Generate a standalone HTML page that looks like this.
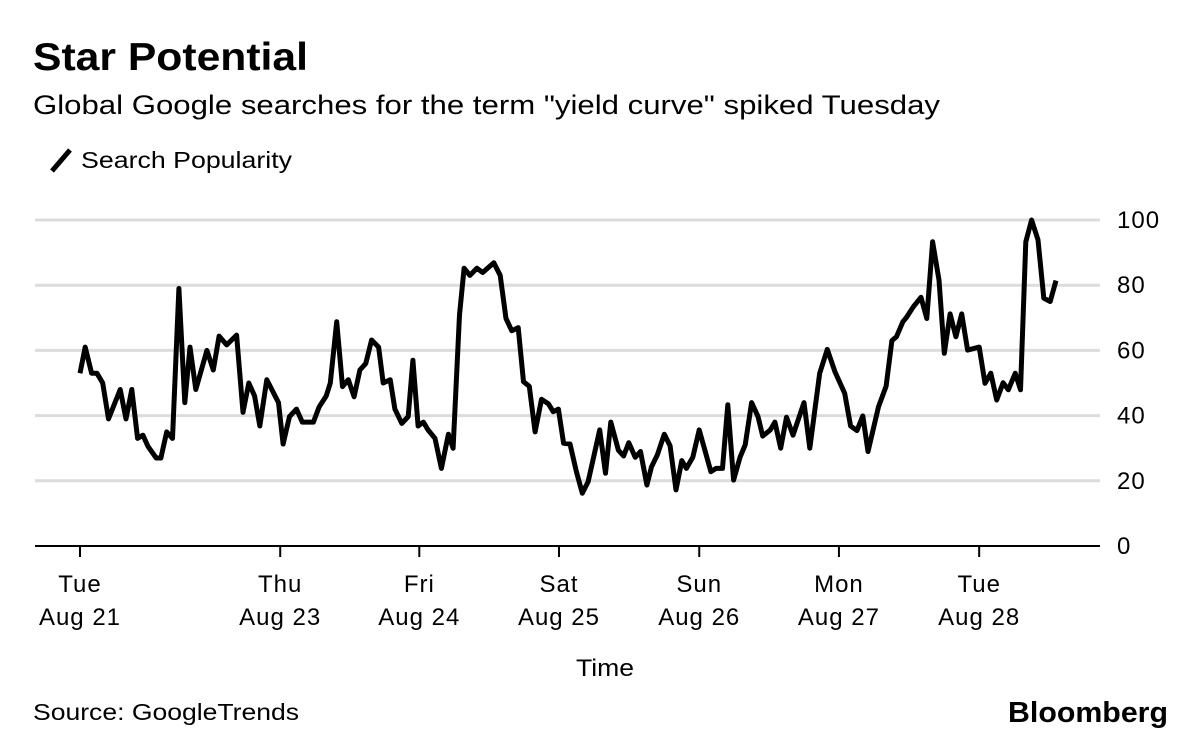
<!DOCTYPE html>
<html><head><meta charset="utf-8"><style>
body{margin:0;background:#fff;width:1200px;height:742px;overflow:hidden;font-family:"Liberation Sans",sans-serif;}
</style></head><body>
<svg width="1200" height="742" xmlns="http://www.w3.org/2000/svg" style="font-family:'Liberation Sans',sans-serif">
<text x="33" y="70" font-size="39" font-weight="bold" fill="#000" textLength="275" lengthAdjust="spacingAndGlyphs">Star Potential</text>
<text x="33" y="114" font-size="27" fill="#000" textLength="907" lengthAdjust="spacingAndGlyphs">Global Google searches for the term "yield curve" spiked Tuesday</text>
<g>
<line x1="52" y1="171" x2="70" y2="150" stroke="#000" stroke-width="5"/>
<text x="81" y="168" font-size="23" fill="#000" textLength="211" lengthAdjust="spacingAndGlyphs">Search Popularity</text>
</g>
<g id="grid"></g>
<g id="xaxis"></g>
<path id="line" fill="none" stroke="#000" stroke-width="5" stroke-linejoin="round"/>
<text x="576" y="676" font-size="24" fill="#000" textLength="58" lengthAdjust="spacingAndGlyphs">Time</text>
<text x="33" y="720" font-size="23" fill="#000" textLength="266" lengthAdjust="spacingAndGlyphs">Source: GoogleTrends</text>
<text x="1008" y="722" font-size="29" font-weight="bold" fill="#000" textLength="160" lengthAdjust="spacingAndGlyphs">Bloomberg</text>
</svg>
<script>
const hours=[0,0.9,2,2.9,3.9,4.9,6.9,7.9,8.9,9.9,10.8,11.7,13.1,13.9,14.9,15.9,17,18,18.9,19.9,21.8,22.9,23.9,25.2,26.9,28,29,30,30.9,32.1,34.1,34.9,36,37.2,38.2,40.1,41.1,42.3,43,44.1,45.1,46.1,47.1,48.1,49.1,50.1,51.3,52.1,53.3,54.1,55.3,56.4,57.2,58.1,59,59.8,61,62.1,63.3,64.1,65.2,66,67,68.2,69.2,71.1,72.2,73.2,74.2,75.3,76.2,77.2,78.2,79.3,80.5,81.3,82.2,83.1,84.2,85.3,86.3,87.3,89.3,90.3,91.2,92.5,93.4,94.3,95.4,96.3,97.4,98.2,99.2,100.4,101.4,102.4,103.4,104.2,105.3,106.4,108.4,109.3,110.4,111.3,112.3,113.4,114.3,115.4,116.5,117.3,118.6,119.4,120.4,121.4,122.5,124.4,125.4,127.1,128.4,129.7,131.4,132.4,133.5,134.5,135.4,137.2,138.5,139.5,140.3,141.4,142,143.2,144.5,145.5,146.5,147.6,148.5,149.5,150.5,151.5,152.5,154.5,155.5,156.5,157.5,158.6,159.5,160.7,161.6,162.5,163.5,164.6,165.6,166.7,167.7];
const popularity=[53,61,53,53,50,39,48,39,48,33,34,30.5,27,27,35,33,79,44,61,48,60,54,64.4,61.7,64.7,41,50,46,36.8,51,44,31.3,39.7,42,38,38,42.7,46,50,68.8,48.9,51,45.8,54,56,63.2,61,50,51,42,37.6,39.7,57,36.8,38,35.6,33,23.8,34.3,30,70.9,85.2,83,85.2,83.9,86.9,83,69.8,66,67,50.4,49,35,45,43.6,41.2,42,31.5,31.3,22.8,16.2,19.7,35.6,22.3,38,29.4,27.6,31.7,27.2,29,18.7,24.3,27.9,34.3,30.7,17.2,26.2,23.8,27.2,35.6,22.8,23.8,23.8,43.3,20.2,27.2,31,44,39.7,33.7,35.6,38,30,39.5,34,44,30,53,60.3,53.5,46.8,36.8,35.4,39.9,29,42.7,49,63,64.2,68.8,70.1,73.4,76.3,69.8,93.3,81.6,59.1,71.2,64.2,71.2,60.1,61,49.9,53,44.8,50.1,47.9,53,47.9,93.3,100,93.9,76,75,81.4];
const yTicks=[0,20,40,60,80,100];
const xTickHours=[0,34.4,58.3,82.3,106.4,130.4,154.5];
const xTickDays=["Tue","Thu","Fri","Sat","Sun","Mon","Tue"];
const xTickDates=["Aug 21","Aug 23","Aug 24","Aug 25","Aug 26","Aug 27","Aug 28"];
const NS="http://www.w3.org/2000/svg";
const x=h=>80+h*5.82;
const y=v=>546-v*3.26;
const grid=document.getElementById('grid');
yTicks.forEach(v=>{
  if(v>0){const l=document.createElementNS(NS,'line');
  l.setAttribute('x1',35);l.setAttribute('x2',1100);l.setAttribute('y1',y(v));l.setAttribute('y2',y(v));
  l.setAttribute('stroke','#dcdcdc');l.setAttribute('stroke-width',3);
  
  
  grid.appendChild(l);}
  const t=document.createElementNS(NS,'text');
  t.setAttribute('x',1117);t.setAttribute('y',y(v)+8);t.setAttribute('font-size',24);t.setAttribute('letter-spacing',1);
  t.textContent=v;
  
  
  grid.appendChild(t);
});
const xa=document.getElementById('xaxis');
const ax=document.createElementNS(NS,'line');
ax.setAttribute('x1',35);ax.setAttribute('x2',1100);ax.setAttribute('y1',546);ax.setAttribute('y2',546);
ax.setAttribute('stroke','#000');ax.setAttribute('stroke-width',2);


xa.appendChild(ax);
xTickHours.forEach((h,i)=>{
  const tk=document.createElementNS(NS,'line');
  tk.setAttribute('x1',x(h));tk.setAttribute('x2',x(h));tk.setAttribute('y1',546);tk.setAttribute('y2',557);
  tk.setAttribute('stroke','#000');tk.setAttribute('stroke-width',2);
  
  
  xa.appendChild(tk);
  [[xTickDays[i],592],[xTickDates[i],625]].forEach(([s,yy])=>{
    const t=document.createElementNS(NS,'text');
    t.setAttribute('x',x(h));t.setAttribute('y',yy);t.setAttribute('font-size',24);t.setAttribute('letter-spacing',1);t.setAttribute('text-anchor','middle');
    t.textContent=s;
    
    
    xa.appendChild(t);
  });
});
document.getElementById('line').setAttribute('d',hours.map((h,i)=>(i?'L':'M')+x(h).toFixed(1)+','+y(popularity[i]).toFixed(1)).join(''));
</script>
</body></html>
